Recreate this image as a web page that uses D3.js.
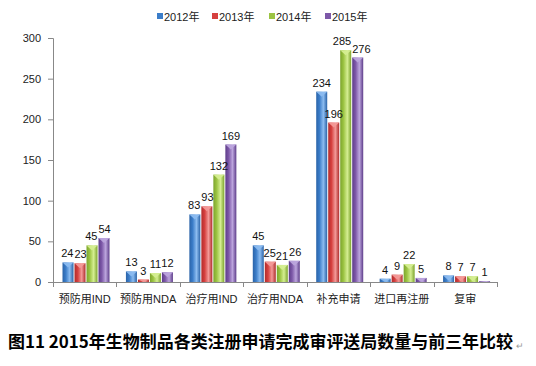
<!DOCTYPE html>
<html><head><meta charset="utf-8">
<script src="https://cdn.jsdelivr.net/npm/d3@7"></script>
<style>body{margin:0;background:#fff}svg{display:block}</style>
</head><body>
<svg id="c" width="536" height="366"></svg>
<script>
const categories = ["预防用IND","预防用NDA","治疗用IND","治疗用NDA","补充申请","进口再注册","复审"];
const seriesNames = ["2012年","2013年","2014年","2015年"];
const v2012 = [24,13,83,45,234,4,8];
const v2013 = [23,3,93,25,196,9,7];
const v2014 = [45,11,132,21,285,22,7];
const v2015 = [54,12,169,26,276,5,1];
const yTicks = [0,50,100,150,200,250,300];
const colors = ["#3b7dc9","#d6403f","#9cc443","#7d58a8"];
const light = ["#8cbcf0","#f39a98","#d5ee92","#bca5dd"];
const dark = ["#2a63a8","#b02c2c","#7ca42c","#5e3d8a"];
const title = "图11 2015年生物制品各类注册申请完成审评送局数量与前三年比较";

const series = [v2012,v2013,v2014,v2015];
const svg = d3.select("#c");
const font = "Tahoma, 'Liberation Sans', 'Noto Sans CJK SC', sans-serif";
const x0 = d3.scaleBand().domain(categories).range([53,497]).paddingInner(0).paddingOuter(0);
const x1 = d3.scaleBand().domain(seriesNames).range([9,57]).padding(0);
const y = d3.scaleLinear().domain([0,300]).range([282,38]);

const defs = svg.append("defs");
colors.forEach((c,i)=>{
  const g = defs.append("linearGradient").attr("id","g"+i).attr("x1","0").attr("x2","1").attr("y1","0").attr("y2","0");
  g.append("stop").attr("offset","0").attr("stop-color",dark[i]);
  g.append("stop").attr("offset","0.3").attr("stop-color",c);
  g.append("stop").attr("offset","0.65").attr("stop-color",light[i]);
  g.append("stop").attr("offset","1").attr("stop-color",dark[i]);
});

// y axis
const yAxis = d3.axisLeft(y).tickValues(yTicks).tickSize(5).tickPadding(7);
const ga = svg.append("g").attr("transform","translate(53,0)").call(yAxis);
ga.select(".domain").attr("stroke","#888").attr("d","M-5,38.5H0.5V282.5");
ga.selectAll(".tick line").attr("stroke","#888");
ga.selectAll("text").attr("font-family",font).attr("font-size","11px").attr("fill","#222");

// x axis
const gx = svg.append("g").attr("transform","translate(0,282)");
gx.append("line").attr("x1",53).attr("x2",497).attr("y1",0.5).attr("y2",0.5).attr("stroke","#888");
const bounds = categories.map(c=>x0(c)).concat([x0.range()[1]]);
gx.selectAll("line.t").data(bounds).join("line").attr("class","t")
  .attr("x1",d=>Math.round(d)+0.5).attr("x2",d=>Math.round(d)+0.5).attr("y1",0).attr("y2",5).attr("stroke","#888");
gx.selectAll("text").data(categories).join("text")
  .attr("x",d=>x0(d)+x0.bandwidth()/2).attr("y",21).attr("text-anchor","middle")
  .attr("font-family",font).attr("font-size","11px").attr("fill","#222").text(d=>d);

// bars
const groups = svg.append("g").selectAll("g").data(categories).join("g")
  .attr("transform",d=>`translate(${x0(d)},0)`);
const labelsByCat = categories.map(()=>[]);
seriesNames.forEach((s,si)=>{
  groups.each(function(cat,ci){
    const val = series[si][ci];
    const g = d3.select(this);
    const bx = x1(s), bw = x1.bandwidth();
    const top = y(val), h = y(0)-top;
    g.append("rect").attr("x",bx+0.5).attr("y",top).attr("width",bw-1).attr("height",h)
      .attr("fill",`url(#g${si})`);
    const th = Math.min(5,h);
    g.append("path").attr("d",`M${bx+0.5},${top}L${bx+bw-0.5},${top}L${bx+bw/2},${top+th}Z`)
      .attr("fill",light[si]).attr("opacity",0.95);
  });
});
const labelLayer = svg.append("g");
groups.each(function(cat,ci){
  const gx0 = x0(cat);
  const labs = seriesNames.map((s,si)=>{
    const val = series[si][ci];
    const t = labelLayer.append("text").attr("x",gx0+x1(s)+x1.bandwidth()/2).attr("y",y(val)-5)
      .attr("text-anchor","middle").attr("font-family",font).attr("font-size","11px").attr("fill","#111").text(val);
    return t;
  });
  // resolve overlaps between neighbouring labels
  for(let i=1;i<labs.length;i++){
    const a = labs[i-1].node().getBBox(), b = labs[i].node().getBBox();
    const ox = (a.x+a.width) - b.x, oy = Math.min(a.y+a.height,b.y+b.height)-Math.max(a.y,b.y);
    if(ox>0 && oy>1){
      const d = (ox+1)/2;
      labs[i-1].attr("x",+labs[i-1].attr("x")-d);
      labs[i].attr("x",+labs[i].attr("x")+d);
    }
  }
});

// legend
const lx = [157,212,269,325];
const lg = svg.append("g").selectAll("g").data(seriesNames).join("g")
  .attr("transform",(d,i)=>`translate(${lx[i]},13)`);
lg.append("rect").attr("width",6).attr("height",6).attr("fill",(d,i)=>colors[i]);
lg.append("text").attr("x",7).attr("y",7.5).attr("font-family",font).attr("font-size","11px").attr("fill","#222").text(d=>d);

// title
svg.append("text").attr("x",8).attr("y",348)
  .attr("font-family","'Noto Sans CJK SC', sans-serif").attr("font-weight","bold")
  .attr("font-size","17px").attr("textLength",505).attr("lengthAdjust","spacingAndGlyphs").attr("fill","#000").text(title);
svg.append("text").attr("x",516).attr("y",349).attr("font-family",font).attr("font-size","9px").attr("fill","#999").text("↵");
</script>
</body></html>
